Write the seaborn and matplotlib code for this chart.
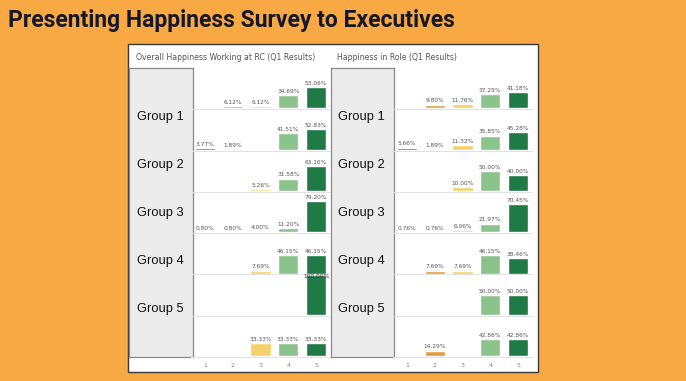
import seaborn as sns
import pandas as pd
import numpy as np
import matplotlib.pyplot as plt
from matplotlib.patches import Rectangle

sns.set_theme(style='white')
plt.rcParams['font.family'] = ['DejaVu Sans']

responses = ['1', '2', '3', '4', '5']
groups = ['Group 1', 'Group 2', 'Group 3', 'Group 4', 'Group 5']
colors = {'1': '#c9352e', '2': '#e29d3c', '3': '#f6d06a', '4': '#8bc38c', '5': '#1f7a46'}

# one list per row of bars, None = no answer in that bucket
overall_rows = [
    [None, 6.12, 6.12, 34.69, 53.06],
    [3.77, 1.89, None, 41.51, 52.83],
    [None, None, 5.26, 31.58, 63.16],
    [0.80, 0.80, 4.00, 11.20, 79.20],
    [None, None, 7.69, 46.15, 46.15],
    [None, None, None, None, 100.00],
    [None, None, 33.33, 33.33, 33.33],
]
role_rows = [
    [None, 9.80, 11.76, 37.25, 41.18],
    [5.66, 1.89, 11.32, 35.85, 45.28],
    [None, None, 10.00, 50.00, 40.00],
    [0.76, 0.76, 6.06, 21.97, 70.45],
    [None, 7.69, 7.69, 46.15, 38.46],
    [None, None, None, 50.00, 50.00],
    [None, 14.29, None, 42.86, 42.86],
]
panel_titles = ['Overall Happiness Working at RC (Q1 Results)', 'Happiness in Role (Q1 Results)']

W, H = 686, 381
fig = plt.figure(figsize=(W / 100, H / 100), dpi=100)
fig.patch.set_facecolor('#f8a943')


def box(x0, y0, x1, y1):
    # pixel box (top-left origin) -> figure fraction rect
    return [x0 / W, 1 - y1 / H, (x1 - x0) / W, (y1 - y0) / H]


fig.text(8 / W, 1 - 20 / H, 'Presenting Happiness Survey to Executives',
         fontsize=16.5, fontweight='bold', color='#15172b', va='center',
         family=['Roboto', 'DejaVu Sans'])

# white dashboard frame
frame = box(128, 44, 538, 372)
fig.patches.append(Rectangle((frame[0], frame[1]), frame[2], frame[3], transform=fig.transFigure,
                             facecolor='white', edgecolor='#3a3a3a', linewidth=1.0, zorder=-5))

panels = [
    dict(rows=overall_rows, title=panel_titles[0], lab=(129, 193), bars=(191, 330), tx=136),
    dict(rows=role_rows, title=panel_titles[1], lab=(331, 394), bars=(393, 532), tx=337),
]

top, bottom = 68, 357
n_rows = 7
row_h = (bottom - top) / n_rows
group_y = [117, 165, 213, 261, 309]

for p in panels:
    fig.text(p['tx'] / W, 1 - 58 / H, p['title'], fontsize=5.6, color='#555555', va='center')

    lab_ax = fig.add_axes(box(p['lab'][0], top, p['lab'][1], bottom))
    lab_ax.set_facecolor('#ebebeb')
    lab_ax.set_xticks([])
    lab_ax.set_yticks([])
    for s in lab_ax.spines.values():
        s.set_color('#8a8a8a')
        s.set_linewidth(0.9)
    for g, gy in zip(groups, group_y):
        fig.text((p['tx'] + 1) / W, 1 - gy / H, g, fontsize=9.3, color='#111111', va='center',
                 family=['Liberation Sans', 'DejaVu Sans'])

    for i, row in enumerate(p['rows']):
        y0 = top + i * row_h
        ax = fig.add_axes(box(p['bars'][0], y0, p['bars'][1], y0 + row_h))
        ax.patch.set_alpha(0)
        df = pd.DataFrame({'resp': responses, 'pct': row}).dropna()
        sns.barplot(data=df, x='resp', y='pct', hue='resp', order=responses, hue_order=responses,
                    palette=colors, width=0.72, legend=False, ax=ax, saturation=1)
        for r, v in zip(df['resp'], df['pct']):
            xi = responses.index(r)
            if v > 90:
                ax.text(xi, v - 9, f'{v:.2f}%', ha='center', va='bottom', fontsize=4.2, color='#2b2b2b')
            else:
                ax.text(xi, v + 3, f'{v:.2f}%', ha='center', va='bottom', fontsize=4.2, color='#555555')
        ax.set_xlim(-0.5, 4.5)
        ax.set_ylim(-2, 102)
        ax.set_xlabel('')
        ax.set_ylabel('')
        ax.set_yticks([])
        for s in ['top', 'left', 'right']:
            ax.spines[s].set_visible(False)
        ax.spines['bottom'].set_color('#e2e2e2')
        ax.spines['bottom'].set_linewidth(0.7)
        if i == n_rows - 1:
            ax.tick_params(axis='x', length=0, labelsize=4.5, labelcolor='#888888', pad=4)
        else:
            ax.set_xticks([])

plt.savefig('out.png', dpi=100, facecolor=fig.get_facecolor())
